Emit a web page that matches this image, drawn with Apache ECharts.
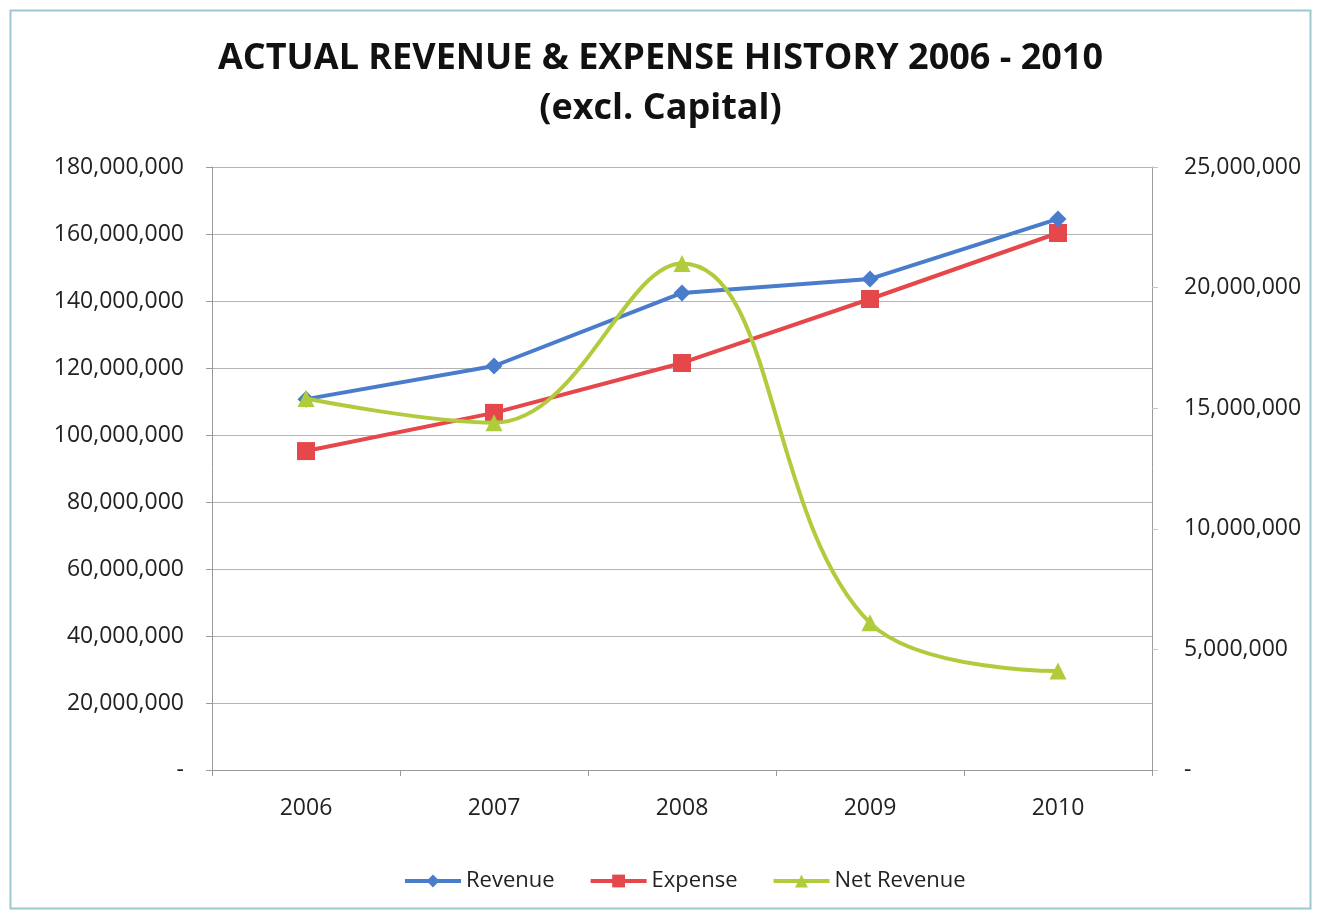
<!DOCTYPE html>
<html>
<head>
<meta charset="utf-8">
<title>Actual Revenue & Expense History 2006 - 2010</title>
<script src="https://cdn.jsdelivr.net/npm/echarts@6/dist/echarts.min.js"></script>
<style>
  html, body { margin: 0; padding: 0; background: #ffffff; }
  #chart { width: 1321px; height: 917px; }
</style>
</head>
<body>
<div id="chart"></div>
<script>
// Fiscal years shown on the category axis
const years = ['2006', '2007', '2008', '2009', '2010'];

// Totals per year (left axis)
const revenue = [110700000, 120600000, 142400000, 146600000, 164500000];
const expense = [95200000, 106600000, 121500000, 140600000, 160300000];

// Revenue minus expense (right axis)
const netRevenue = [15400000, 14400000, 21000000, 6100000, 4100000];

// Axis ranges and tick spacing
const leftMax = 180000000, leftStep = 20000000;
const rightMax = 25000000, rightStep = 5000000;

const FONT = '"Open Sans", "Liberation Sans", sans-serif';

function fmt(v) {
  if (v === 0) return '-';
  return v.toLocaleString('en-US');
}

const chart = echarts.init(document.getElementById('chart'), null, { renderer: 'canvas' });

chart.setOption({
  backgroundColor: '#ffffff',
  animation: false,
  textStyle: { fontFamily: FONT },
  graphic: [{
    type: 'rect',
    shape: { x: 10.5, y: 10.5, width: 1300, height: 898 },
    style: { fill: 'none', stroke: '#9cc9cf', lineWidth: 2 },
    silent: true
  }],
  title: {
    text: 'ACTUAL REVENUE & EXPENSE HISTORY 2006 - 2010\n(excl. Capital)',
    left: 'center',
    top: 29,
    textStyle: {
      fontFamily: FONT,
      fontWeight: 'bold',
      fontSize: 36,
      lineHeight: 50,
      color: '#111111'
    }
  },
  legend: {
    bottom: 20,
    left: 398,
    itemWidth: 56,
    itemHeight: 16,
    itemGap: 34,
    lineStyle: { width: 4 },
    textStyle: { fontFamily: FONT, fontSize: 22, color: '#222222' },
    data: ['Revenue', 'Expense', 'Net Revenue']
  },
  grid: { left: 212, right: 169, top: 167, bottom: 147, containLabel: false },
  xAxis: {
    type: 'category',
    data: years,
    boundaryGap: true,
    axisLine: { show: true, lineStyle: { color: '#9a9a9a', width: 1 } },
    axisTick: { show: true, length: 6, inside: false, lineStyle: { color: '#9a9a9a' } },
    axisLabel: { fontFamily: FONT, fontSize: 23, color: '#222222', margin: 27 }
  },
  yAxis: [{
    type: 'value',
    min: 0,
    max: leftMax,
    interval: leftStep,
    position: 'left',
    axisLine: { show: true, lineStyle: { color: '#9a9a9a', width: 1 } },
    axisTick: { show: true, length: 6, lineStyle: { color: '#9a9a9a' } },
    splitLine: { show: true, lineStyle: { color: '#b4b4b4', width: 1 } },
    axisLabel: { fontFamily: FONT, fontSize: 23, color: '#222222', margin: 28, formatter: fmt }
  }, {
    type: 'value',
    min: 0,
    max: rightMax,
    interval: rightStep,
    position: 'right',
    axisLine: { show: true, lineStyle: { color: '#9a9a9a', width: 1 } },
    axisTick: { show: true, length: 6, lineStyle: { color: '#c4c4c4' } },
    splitLine: { show: false },
    axisLabel: { fontFamily: FONT, fontSize: 23, color: '#222222', margin: 32, formatter: fmt }
  }],
  series: [{
    name: 'Revenue',
    type: 'line',
    yAxisIndex: 0,
    data: revenue,
    symbol: 'diamond',
    symbolSize: 17,
    lineStyle: { color: '#4a7ccc', width: 4 },
    itemStyle: { color: '#4a7ccc' },
    z: 3
  }, {
    name: 'Expense',
    type: 'line',
    yAxisIndex: 0,
    data: expense,
    symbol: 'rect',
    symbolSize: 18,
    lineStyle: { color: '#e5474b', width: 4 },
    itemStyle: { color: '#e5474b' },
    z: 2
  }, {
    name: 'Net Revenue',
    type: 'line',
    yAxisIndex: 1,
    data: netRevenue,
    smooth: 0.4,
    symbol: 'triangle',
    symbolSize: 17,
    lineStyle: { color: '#b0cc3c', width: 4 },
    itemStyle: { color: '#b0cc3c' },
    z: 4
  }]
});
</script>
</body>
</html>
